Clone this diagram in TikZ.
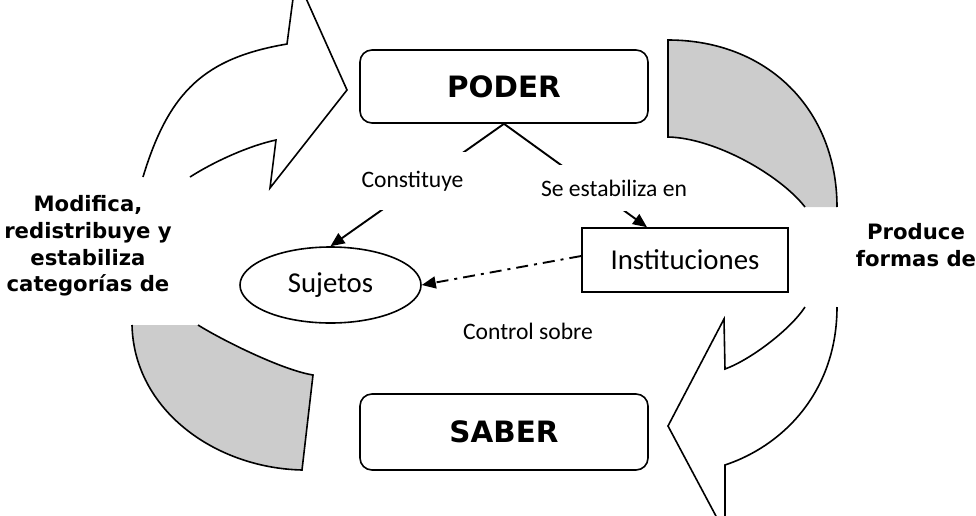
\documentclass[tikz,border=0pt]{standalone}
\usepackage{fontspec}
\setmainfont{Carlito}
\newfontfamily\verdana{DejaVu Sans}
\usetikzlibrary{arrows.meta,shapes.geometric}
\definecolor{bandgray}{RGB}{204,204,204}

\tikzset{
  titlebox/.style={draw, line width=0.8pt, rounded corners=6pt, minimum width=144pt, inner sep=0pt, font=\verdana\bfseries\fontsize{14.7}{17}\selectfont},
  tag/.style={inner sep=0pt, font=\fontsize{11.8}{14}\selectfont},
  sidetext/.style={align=center, font=\verdana\bfseries\fontsize{10.6}{13.4}\selectfont},
  link/.style={line width=0.95pt, -{Triangle[length=7pt,width=6pt]}},
  ring/.style={line width=0.8pt},
}

\begin{document}
\begin{tikzpicture}[x=0.5pt, y=-0.5pt]

\useasboundingbox (0,0) rectangle (976,515);
\clip (0,0) rectangle (976,515);

% Curved arrows
\draw[ring] (143,177) .. controls (169,91) and (205,58) .. (287,44) -- (296,-24) -- (347,90) -- (270,188) -- (276,140) .. controls (250,145.5) and (215,161) .. (190,177);
\draw[ring] (837,307) .. controls (837,390) and (785,445) .. (725,465) -- (725,533) -- (668,426) -- (724,319) -- (725,369) .. controls (750,360) and (790,330) .. (805,307);

% Gray bands
\filldraw[ring, fill=bandgray] (837,207) .. controls (837,110) and (768,40) .. (668,40) -- (668,137) .. controls (715,138) and (780,175) .. (805,207);
\filldraw[ring, fill=bandgray] (132,325) .. controls (134,410) and (215,468) .. (302,470) -- (313,375) .. controls (282,370) and (222,340) .. (198,325);

% Main boxes
\node[titlebox, minimum height=36.5pt] (poder) at (504,86.5) {PODER};
\node[titlebox, minimum height=38pt] (saber) at (504,432) {SABER};
\node[draw, ellipse, line width=0.8pt, minimum width=90.5pt, minimum height=38pt, inner sep=0pt, font=\fontsize{14.4}{17}\selectfont] (sujetos) at (330.5,285) {Sujetos};
\node[draw, line width=0.8pt, minimum width=103pt, minimum height=32pt, inner sep=0pt, font=\fontsize{14.4}{17}\selectfont] (inst) at (685,260) {Instituciones};

% Relations
\draw[link] (poder.south) -- (sujetos.north);
\draw[link] (poder.south) -- ([xshift=-19pt]inst.north);
\draw[link, dash pattern=on 6pt off 3pt on 1.5pt off 3pt] ([yshift=2pt]inst.west) -- (sujetos.east);

% Labels
\node[tag, fill=white, minimum width=53.5pt, minimum height=29pt] (constituye) at (412.5,181) {Constituye};
\node[tag, fill=white, minimum width=77pt, minimum height=23pt] (estabiliza) at (614,188) {Se estabiliza en};
\node[tag] (control) at (528,331) {Control sobre};

% Side texts
\node[sidetext] (modifica) at (88,246) {Modifica,\\redistribuye y\\estabiliza\\categorías de};
\node[sidetext] (produce) at (916,245) {Produce\\formas de};

\end{tikzpicture}
\end{document}
